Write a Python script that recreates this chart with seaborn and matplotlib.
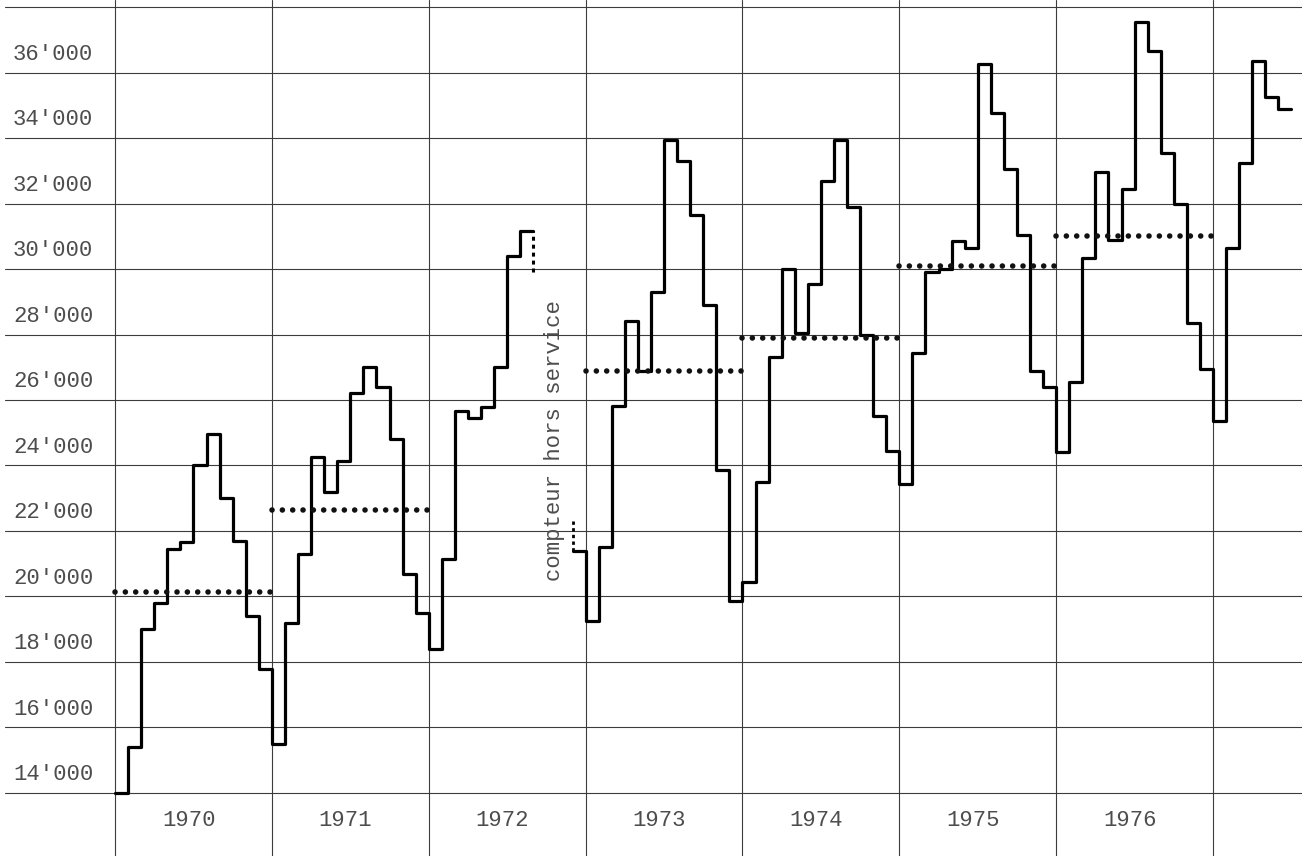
import numpy as np
import pandas as pd
import seaborn as sns
import matplotlib.pyplot as plt

# Monthly counts (Jan..Dec), NaN = counter out of service
v1970 = [14000, 15400, 19000, 19800, 21450, 21650, 24000, 24950, 23000, 21700, 19400, 17800]
v1971 = [15500, 19200, 21300, 24250, 23200, 24150, 26200, 27000, 26400, 24800, 20700, 19500]
v1972 = [18400, 21150, 25650, 25450, 25800, 27000, 30400, 31150, np.nan, np.nan, np.nan, 21400]
v1973 = [19250, 21500, 25830, 28400, 26900, 29300, 33950, 33300, 31650, 28900, 23850, 19850]
v1974 = [20450, 23500, 27300, 30000, 28050, 29550, 32700, 33950, 31900, 28000, 25500, 24450]
v1975 = [23450, 27450, 29900, 30000, 30850, 30650, 36250, 34750, 33050, 31050, 26900, 26400]
v1976 = [24400, 26550, 30350, 32950, 30900, 32450, 37550, 36650, 33550, 32000, 28350, 26950]
v1977 = [25350, 30650, 33250, 36350, 35250, 34900]

# Yearly means (dotted lines)
avg_years = [1970, 1971, 1973, 1974, 1975, 1976]
avg_values = [20150, 22650, 26900, 27900, 30100, 31000]

# dashed ends on each side of the gap
gap_left = [31150, 29900]
gap_right = [22400, 21400]

year_labels = ['1970', '1971', '1972', '1973', '1974', '1975', '1976']
grid_values = list(range(14000, 38001, 2000))
ytick_labels = [f"{v // 1000}'000" for v in grid_values[:-1]]

# Build monthly table, split into segments at the gap
values = v1970 + v1971 + v1972 + v1973 + v1974 + v1975 + v1976 + v1977
df = pd.DataFrame({'t': np.arange(len(values)) / 12, 'value': values})
df['segment'] = df['value'].isna().cumsum()
df = df.dropna()
# close each step segment at the end of its last month
ends = df.groupby('segment').tail(1).copy()
ends['t'] += 1 / 12
df = pd.concat([df, ends]).sort_values(['segment', 't'])

sns.set_style('white')
plt.rcParams['font.family'] = ['Liberation Mono', 'DejaVu Sans Mono']

fig = plt.figure(figsize=(13.06, 8.56), dpi=100)
ax = fig.add_axes([5 / 1306, 0, 1297 / 1306, 1])
ax.set_xlim(-0.7013, 7.5672)
ax.set_ylim(12076, 38214)

# paper grid
ax.set_xticks(range(0, 8))
ax.set_yticks(grid_values)
ax.tick_params(length=0, labelleft=False, labelbottom=False)
ax.grid(True, color='#3c3c3c', lw=0.8)
for s in ax.spines.values():
    s.set_visible(False)

# monthly steps
sns.lineplot(data=df, x='t', y='value', units='segment', estimator=None,
             drawstyle='steps-post', color='black', lw=2.3, ax=ax)

# dashed edges of the gap
seg_ids = df['segment'].unique()
t_end = df[df['segment'] == seg_ids[0]]['t'].max()
t_start = df[df['segment'] == seg_ids[-1]]['t'].min()
ax.vlines(t_end, gap_left[1], gap_left[0], colors='black', lw=2.2,
          linestyles=[(0, (1.3, 1.3))])
ax.vlines(t_start, gap_right[1], gap_right[0], colors='black', lw=2.0,
          linestyles=[(0, (1.2, 1.2))])

# yearly means as dotted lines
x0 = [y - 1970 for y in avg_years]
ax.hlines(avg_values, xmin=x0, xmax=[x + 1 for x in x0], colors='#111111',
          lw=4.0, linestyles=[(0, (0.01, 1.85))], capstyle='round')

# labels
txt = dict(color='#4d4d4d', fontsize=16)
for v, lab in zip(grid_values, ytick_labels):
    ax.text(-0.650, v + 550, lab, ha='left', va='center', **txt)
for i, lab in enumerate(year_labels):
    ax.text(i + 0.47, 13150, lab, ha='center', va='center', **txt)
ax.text(2.805, 24750, 'compteur hors service', rotation=90,
        ha='center', va='center', **txt)

ax.set_xlabel('')
ax.set_ylabel('')
fig.savefig('out.png', dpi=100)
